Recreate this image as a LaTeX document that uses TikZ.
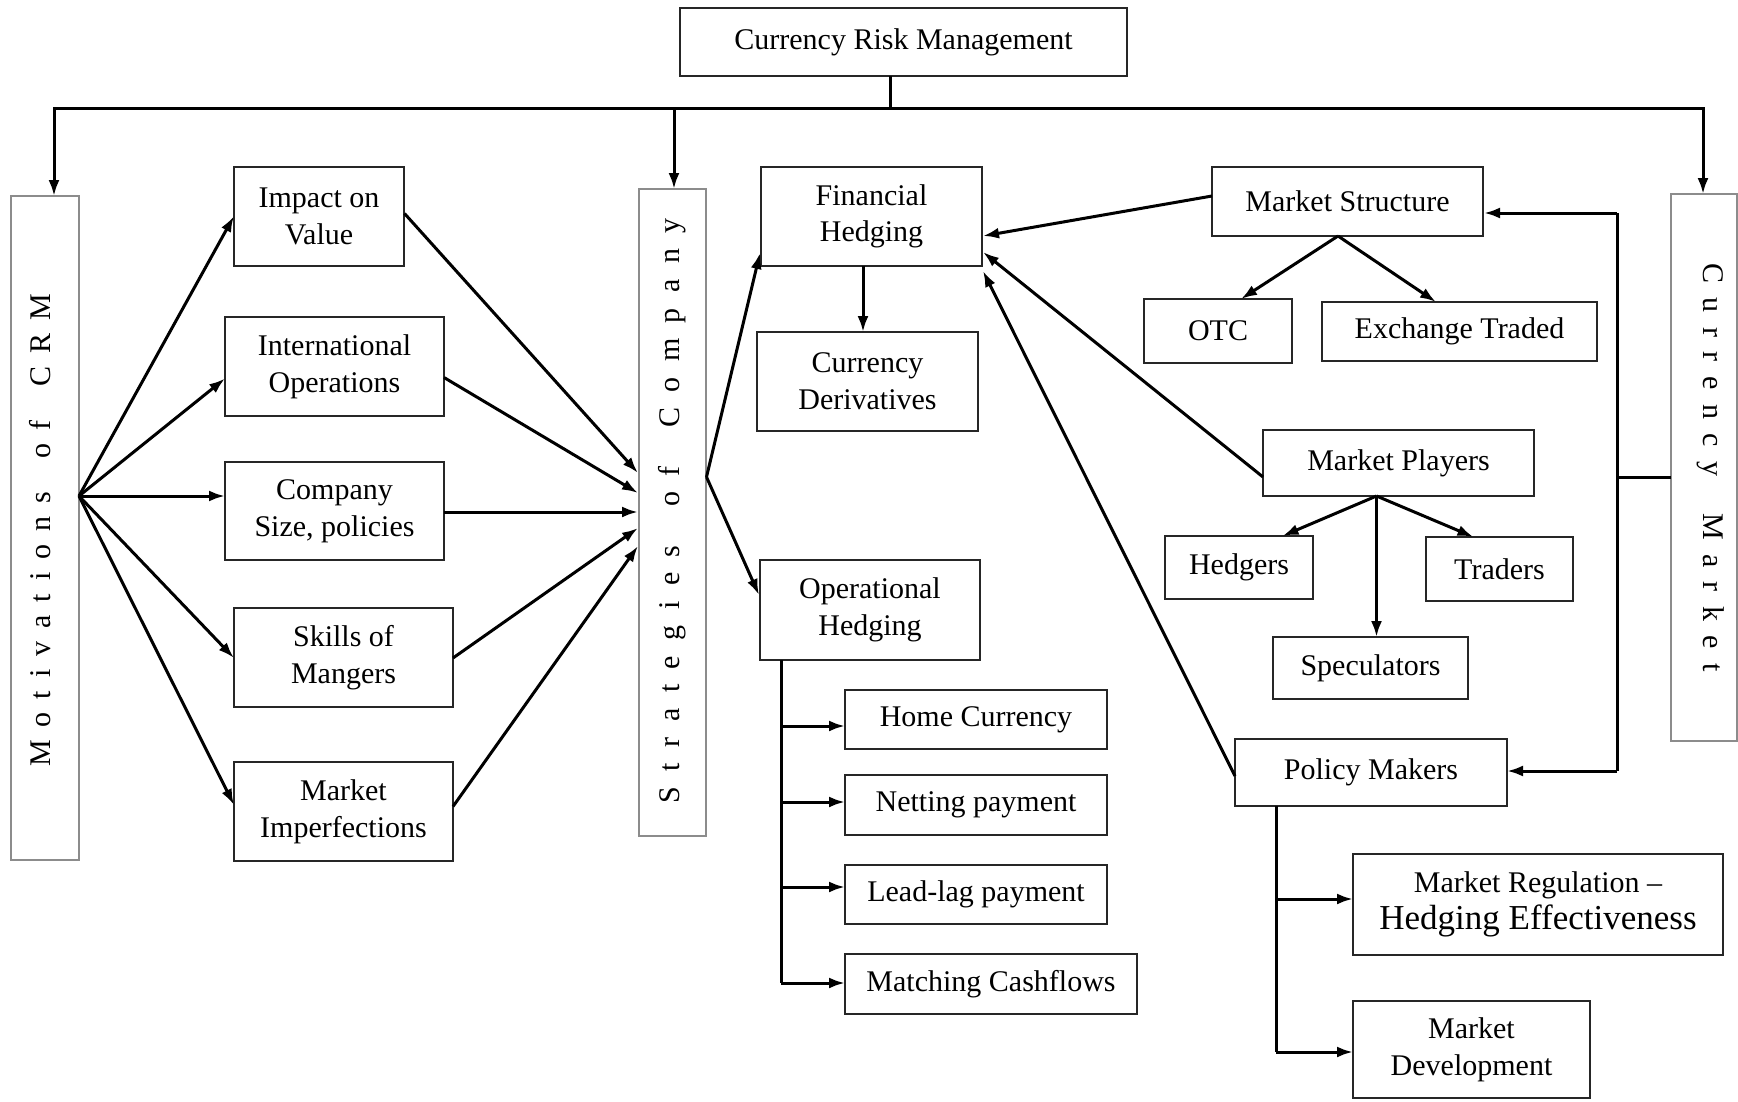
\documentclass[tikz,border=0pt]{standalone}
\usepackage{fontspec}
\setmainfont{Liberation Serif}
\usetikzlibrary{arrows.meta}
\newlength\lsgap
\def\spreadA#1{\ifx#1\relax\else#1\hspace{\lsgap}\expandafter\spreadA\fi}
\newcommand\spreadtext[2]{\setlength\lsgap{#1}\spreadA#2\relax\hspace{-\lsgap}}
\begin{document}
\begin{tikzpicture}[x=1pt,y=-1pt,
  font=\fontsize{30}{36.6}\selectfont,
  box/.style={draw=black!85, line width=2pt, align=center, inner sep=0pt},
  vbox/.style={draw=black!45, line width=2pt, inner sep=0pt},
  conn/.style={line width=3pt},
  arr/.style={line width=3pt, -{Latex[length=16pt,width=11pt]}},
]
\useasboundingbox[fill=white] (0,0) rectangle (1738,1101);

% ---------- boxes ----------
\node[box,minimum width=447pt,minimum height=68pt] (top) at (903.5,42) {Currency Risk Management};

\node[vbox,minimum width=68pt,minimum height=664pt] (mot) at (45,528) {};
\node[rotate=90] (motT) at (40,524) {\spreadtext{13pt}{Motivations~of~CRM}};
\node[vbox,minimum width=67pt,minimum height=647pt] (strat) at (672.5,512.5) {};
\node[rotate=90] (stratT) at (672,503) {\spreadtext{15.5pt}{Strategies~of~Company}};
\node[vbox,minimum width=66pt,minimum height=547pt] (cm) at (1704,467.5) {};
\node[rotate=-90] (cmT) at (1711,475) {\spreadtext{14.5pt}{Currency~Market}};

\node[box,minimum width=170pt,minimum height=99pt] (impact) at (319,216.5) {Impact on\\Value};
\node[box,minimum width=219pt,minimum height=99pt] (intl) at (334.5,366.5) {International\\Operations};
\node[box,minimum width=219pt,minimum height=98pt] (comp) at (334.5,511) {Company\\Size, policies};
\node[box,minimum width=219pt,minimum height=99pt] (skills) at (343.5,657.5) {Skills of\\Mangers};
\node[box,minimum width=219pt,minimum height=99pt] (mimp) at (343.5,811.5) {Market\\Imperfections};

\node[box,minimum width=221pt,minimum height=99pt] (fin) at (871.5,216.5) {Financial\\Hedging};
\node[box,minimum width=221pt,minimum height=99pt] (deriv) at (867.5,381.5) {Currency\\Derivatives};
\node[box,minimum width=220pt,minimum height=100pt] (oper) at (870,610) {Operational\\Hedging};
\node[box,minimum width=262pt,minimum height=59pt] (home) at (976,719.5) {Home Currency};
\node[box,minimum width=262pt,minimum height=60pt] (net) at (976,805) {Netting payment};
\node[box,minimum width=262pt,minimum height=59pt] (lead) at (976,894.5) {Lead-lag payment};
\node[box,minimum width=292pt,minimum height=60pt] (match) at (991,984) {Matching Cashflows};

\node[box,minimum width=271pt,minimum height=69pt] (mstruct) at (1347.5,201.5) {Market Structure};
\node[box,minimum width=148pt,minimum height=64pt] (otc) at (1218,331) {OTC};
\node[box,minimum width=275pt,minimum height=59pt] (exch) at (1459.5,331.5) {Exchange Traded};
\node[box,minimum width=271pt,minimum height=66pt] (mplay) at (1398.5,463) {Market Players};
\node[box,minimum width=148pt,minimum height=63pt] (hedg) at (1239,567.5) {Hedgers};
\node[box,minimum width=147pt,minimum height=64pt] (trad) at (1499.5,569) {Traders};
\node[box,minimum width=195pt,minimum height=62pt] (spec) at (1370.5,668) {Speculators};
\node[box,minimum width=272pt,minimum height=67pt] (policy) at (1371,772.5) {Policy Makers};
\node[box,minimum width=370pt,minimum height=101pt] (mreg) at (1538,904.5) {Market Regulation --\\{\fontsize{35}{40}\selectfont Hedging Effectiveness}};
\node[box,minimum width=237pt,minimum height=97pt] (mdev) at (1471.5,1049.5) {Market\\Development};

% ---------- coordinates ----------
\coordinate (tb) at (890,76);
\coordinate (bus) at (890,108);
\coordinate (motIn) at (54,196);
\coordinate (stratIn) at (674,189);
\coordinate (cmIn) at (1703,194);

\coordinate (fanM) at (79,496);
\coordinate (impIn) at (234,216);
\coordinate (intlIn) at (225,378.5);
\coordinate (compIn) at (225,496);
\coordinate (skIn) at (234,658);
\coordinate (miIn) at (234,805);

\coordinate (impOut) at (404.5,213.5);
\coordinate (intlOut) at (444,377.5);
\coordinate (compOut) at (444,512);
\coordinate (skOut) at (453,658);
\coordinate (miOut) at (453,806.5);
\coordinate (s1) at (638,473);
\coordinate (s2) at (638,493);
\coordinate (s3) at (638,512);
\coordinate (s4) at (638,528);
\coordinate (s5) at (638,546);

\coordinate (fanS) at (706.5,477);
\coordinate (finIn) at (760,253);
\coordinate (operIn) at (759,595);

\coordinate (finDown) at (863,266);
\coordinate (derivIn) at (863,332);

\coordinate (opTop) at (781,660);
\coordinate (opBot) at (781,983);
\coordinate (o1) at (781,726);
\coordinate (o2) at (781,802);
\coordinate (o3) at (781,887);
\coordinate (homeIn) at (845,726);
\coordinate (netIn) at (845,802);
\coordinate (leadIn) at (845,887);
\coordinate (matchIn) at (845,983);

\coordinate (msOut) at (1212,196);
\coordinate (finA) at (983,236);
\coordinate (mpOut) at (1263,477);
\coordinate (finB) at (983,252);
\coordinate (pmOut) at (1235,776);
\coordinate (finC) at (983,271);

\coordinate (msBot) at (1338,236);
\coordinate (otcIn) at (1241,299);
\coordinate (exIn) at (1436,302);

\coordinate (mpBot) at (1376.5,496);
\coordinate (hedIn) at (1282.5,536);
\coordinate (trIn) at (1473.5,537);
\coordinate (spIn) at (1376.5,637);

\coordinate (cmOut) at (1671,477);
\coordinate (cmJ) at (1617,477);
\coordinate (cmTop) at (1617,213);
\coordinate (cmBot) at (1617,771);
\coordinate (msIn) at (1484,213);
\coordinate (pmIn) at (1507,771);

\coordinate (pmTop) at (1276,806);
\coordinate (pmBot) at (1276,1052);
\coordinate (p1) at (1276,899);
\coordinate (mregIn) at (1353,899);
\coordinate (mdevIn) at (1353,1052);

% ---------- connectors ----------
\draw[conn] (tb) -- (bus);
\draw[arr] (bus) -| (motIn);
\draw[arr] (bus) -| (stratIn);
\draw[arr] (bus) -| (cmIn);

\foreach \t in {impIn,intlIn,compIn,skIn,miIn} \draw[arr] (fanM) -- (\t);
\draw[arr] (impOut) -- (s1);
\draw[arr] (intlOut) -- (s2);
\draw[arr] (compOut) -- (s3);
\draw[arr] (skOut) -- (s4);
\draw[arr] (miOut) -- (s5);

\draw[arr] (fanS) -- (finIn);
\draw[arr] (fanS) -- (operIn);
\draw[arr] (finDown) -- (derivIn);

\draw[conn] (opTop) -- (o1) -- (o2) -- (o3) -- (opBot);
\draw[arr] (o1) -- (homeIn);
\draw[arr] (o2) -- (netIn);
\draw[arr] (o3) -- (leadIn);
\draw[arr] (opBot) -- (matchIn);

\draw[arr] (msOut) -- (finA);
\draw[arr] (mpOut) -- (finB);
\draw[arr] (pmOut) -- (finC);

\draw[arr] (msBot) -- (otcIn);
\draw[arr] (msBot) -- (exIn);
\draw[arr] (mpBot) -- (hedIn);
\draw[arr] (mpBot) -- (trIn);
\draw[arr] (mpBot) -- (spIn);

\draw[conn] (cmOut) -- (cmJ);
\draw[conn] (cmTop) -- (cmJ) -- (cmBot);
\draw[arr] (cmTop) -- (msIn);
\draw[arr] (cmBot) -- (pmIn);

\draw[conn] (pmTop) -- (p1) -- (pmBot);
\draw[arr] (p1) -- (mregIn);
\draw[arr] (pmBot) -- (mdevIn);
\end{tikzpicture}
\end{document}
